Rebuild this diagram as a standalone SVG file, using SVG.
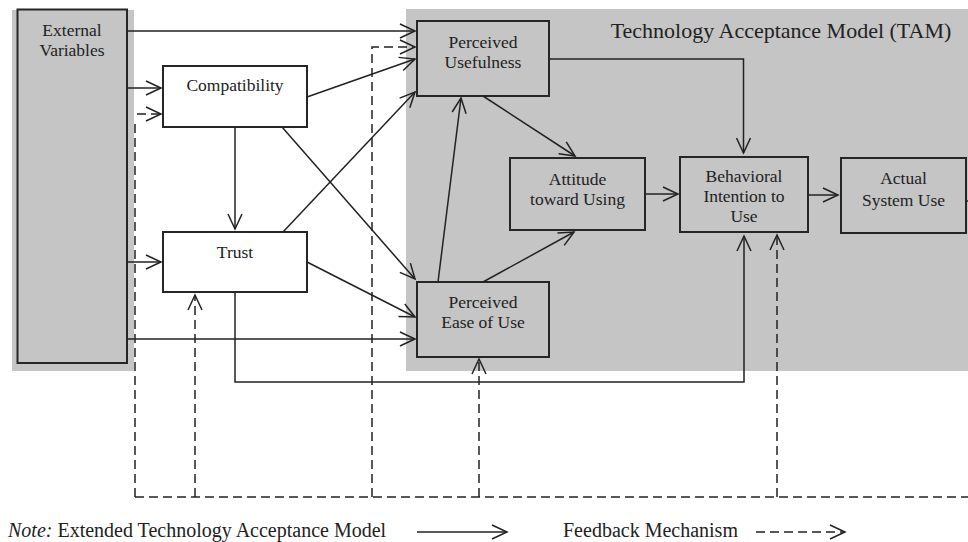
<svg xmlns="http://www.w3.org/2000/svg" width="968" height="542" viewBox="0 0 968 542">
<defs>
<style>
.bg{fill:#c4c5c4;}
.box{stroke:#262626;stroke-width:2;}
.g{fill:#c4c5c4;}
.w{fill:#ffffff;}
text{font-family:"Liberation Serif","Times New Roman",serif;fill:#222;text-anchor:middle;font-size:17.5px;}
.c path,.c line{fill:none;stroke:#222;stroke-width:1.5;}
.s{marker-end:url(#ah);}
.d{stroke-dasharray:9 5;}
</style>
<marker id="ah" viewBox="-17 -9 19 18" refX="0" refY="0" markerWidth="19" markerHeight="18" orient="auto" markerUnits="userSpaceOnUse">
<path d="M-15,-7 L0,0 L-15,7" fill="none" stroke="#222" stroke-width="1.5"/>
</marker>
</defs>
<rect x="0" y="0" width="968" height="542" fill="#ffffff"/>
<rect class="bg" x="12" y="10" width="122" height="361"/>
<rect class="bg" x="406" y="9" width="562" height="362"/>
<text x="781" y="37.5" style="font-size:22px">Technology Acceptance Model (TAM)</text>

<g id="external-variables">
<rect class="box g" x="17.5" y="9.5" width="109.5" height="353.5"/>
<text x="72" y="35.5">External</text>
<text x="72" y="56">Variables</text>
</g>
<g id="compatibility">
<rect class="box w" x="163" y="66" width="144" height="61"/>
<text x="235" y="91">Compatibility</text>
</g>
<g id="trust">
<rect class="box w" x="163" y="232" width="144" height="60"/>
<text x="235" y="258">Trust</text>
</g>
<g id="perceived-usefulness">
<rect class="box g" x="417" y="21" width="132" height="75"/>
<text x="483" y="48">Perceived</text>
<text x="483" y="68">Usefulness</text>
</g>
<g id="perceived-ease-of-use">
<rect class="box g" x="417" y="282" width="132" height="75"/>
<text x="483" y="308">Perceived</text>
<text x="483" y="328">Ease of Use</text>
</g>
<g id="attitude">
<rect class="box g" x="510" y="158" width="135" height="72"/>
<text x="577.5" y="185">Attitude</text>
<text x="577.5" y="205">toward Using</text>
</g>
<g id="behavioral-intention">
<rect class="box g" x="680" y="157" width="128" height="75"/>
<text x="744" y="182">Behavioral</text>
<text x="744" y="202">Intention to</text>
<text x="744" y="222">Use</text>
</g>
<g id="actual-system-use">
<rect class="box g" x="841" y="158" width="125" height="75"/>
<text x="903.5" y="184">Actual</text>
<text x="903.5" y="206">System Use</text>
</g>

<g id="connectors" class="c">
<line class="s" x1="127" y1="31" x2="415" y2="31"/>
<line class="s" x1="127" y1="88" x2="161" y2="88"/>
<line class="s" x1="127" y1="262" x2="161" y2="262"/>
<line class="s" x1="127" y1="339" x2="415" y2="339"/>
<line class="s" x1="307" y1="97" x2="415" y2="59"/>
<line class="s" x1="235" y1="127" x2="235" y2="229"/>
<line class="s" x1="282" y1="127" x2="415" y2="279"/>
<line class="s" x1="283" y1="232" x2="415" y2="92"/>
<line class="s" x1="307" y1="262" x2="415" y2="317"/>
<path class="s" d="M235,292 V382 H744 V236"/>
<line class="s" x1="438" y1="282" x2="461" y2="98"/>
<line class="s" x1="483" y1="282" x2="574" y2="232"/>
<line class="s" x1="483" y1="96" x2="575" y2="156"/>
<path class="s" d="M549,59 H743.5 V153"/>
<line class="s" x1="645" y1="194" x2="678" y2="194"/>
<line class="s" x1="808" y1="195" x2="838" y2="195"/>
<line x1="966" y1="201" x2="968" y2="201"/>
<line class="d" x1="135" y1="497" x2="968" y2="497"/>
<line class="d" x1="135" y1="497" x2="135" y2="119"/>
<line class="d s" x1="137" y1="114" x2="161" y2="114"/>
<line class="d s" x1="195" y1="497" x2="195" y2="295"/>
<path class="d s" d="M372,497 V47 H415"/>
<line class="d s" x1="479" y1="497" x2="479" y2="359"/>
<line class="d s" x1="777" y1="497" x2="777" y2="235"/>
<line class="s" x1="417" y1="532" x2="507" y2="532"/>
<line class="d s" x1="756" y1="532" x2="845" y2="532"/>
</g>

<text x="8" y="537" style="font-size:20px;text-anchor:start"><tspan font-style="italic">Note:</tspan> Extended Technology Acceptance Model</text>
<text x="563" y="537" style="font-size:20px;text-anchor:start">Feedback Mechanism</text>
</svg>
